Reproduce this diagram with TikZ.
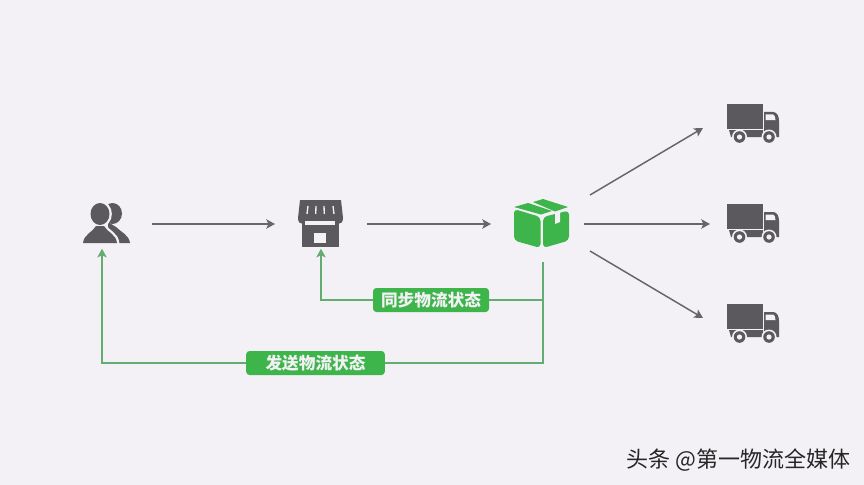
\documentclass[tikz,border=0pt]{standalone}
\usepackage{fontspec}
\usepackage{xcolor}
\setmainfont{Noto Sans CJK SC}
\usetikzlibrary{arrows.meta,positioning}
\definecolor{paper}{HTML}{F3F1F6}
\definecolor{iconGray}{HTML}{5B595E}
\definecolor{lineGray}{HTML}{67656A}
\definecolor{boxGreen}{HTML}{3DB54A}
\definecolor{lineGreen}{HTML}{62AD6F}
\tikzstyle{slot}=[inner sep=0pt, outer sep=0pt, minimum width=75pt, minimum height=37pt]
\tikzstyle{flow}=[-{Stealth[length=6.5pt,width=7pt,inset=1.5pt]}, line width=1.1pt, lineGray]
\tikzstyle{notify}=[-{Stealth[length=6.5pt,width=7pt,inset=1.5pt]}, line width=1.1pt, lineGreen]
\tikzstyle{trunk}=[line width=1.1pt, lineGreen]
\tikzstyle{status}=[fill=boxGreen, rounded corners=2.5pt, text=paper, font=\bfseries\fontsize{12.5pt}{14pt}\selectfont, inner sep=0pt, minimum height=18pt]
\tikzstyle{credit}=[font=\fontsize{16.5pt}{18pt}\selectfont, text=black!85]
\tikzset{
  truckicon/.pic={
    \fill[iconGray] (-26,-19) rectangle (10,6);
    \fill[iconGray] (-24,7) -- (10,7) -- (10,14) -- (-22,14) -- cycle;
    \fill[iconGray] (11,-11) -- (20,-11) .. controls (24,-11) and (26,-7) .. (26,-2) -- (26,14) -- (11,14) -- cycle;
    \fill[paper] (12.5,-8.5) -- (20,-8.5) .. controls (21.5,-8.5) and (22.5,-6) .. (22.5,-3) -- (12.5,-3) -- cycle;
    \foreach \wx in {-13.5,16} {
      \fill[paper] (\wx,14) circle (7.5);
      \fill[iconGray] (\wx,14) circle (5.8);
      \fill[paper] (\wx,14) circle (2.6);
    }
  }
}
\begin{document}
\begin{tikzpicture}[x=0.75pt,y=-0.75pt]
  \useasboundingbox (0,0) rectangle (864,485);
  \fill[paper] (0,0) rectangle (864,485);

  % Nodes
  \node[slot, minimum width=75pt] (user) at (102,224) {};
  \node[slot, minimum width=69pt] (store) at (321,224) {};
  \node[slot, minimum width=78pt, minimum height=57pt] (parcel) at (543,224) {};
  \node[slot, minimum width=75pt, minimum height=7.5pt] (truck1) at (753,123) {};
  \node[slot, minimum width=64.5pt] (truck2) at (753,224) {};
  \node[slot, minimum width=75pt, minimum height=7.5pt] (truck3) at (753,323) {};
  \coordinate (parcel up) at (590,195);
  \coordinate (parcel mid) at (584,224);
  \coordinate (parcel down) at (590,251);

  % Labels
  \node[status, minimum width=87pt] (sync) at (431,300) {同步物流状态};
  \node[status, minimum width=104pt] (send) at (315.5,363) {发送物流状态};

  % Grey arrows
  \draw[flow] (user) -- (store);
  \draw[flow] (store) -- (parcel);
  \draw[flow] (parcel up) -- (truck1.south west);
  \draw[flow] (parcel mid) -- (truck2.west);
  \draw[flow] (parcel down) -- (truck3.north west);

  % Green arrows
  \draw[trunk] (parcel.south) |- (send.east);
  \draw[trunk] (sync.east) -- (parcel.south |- sync.east);
  \draw[notify] (send.west) -| (user.south);
  \draw[notify] (sync.west) -| (store.south);

  % User icon
  \fill[iconGray] (112.5,213.5) ellipse (9.5 and 10.5);
  \fill[iconGray] (108,243) -- (130,243) .. controls (129,235) and (121,232) .. (116,227) -- (108,222) -- cycle;
  \path[fill=iconGray, preaction={draw=paper, line width=3.5pt}] (100,214) ellipse (9.5 and 11)
    (83,243) .. controls (84,234) and (93,232) .. (96,226) -- (104,226) .. controls (107,232) and (116,234) .. (117,243) -- cycle;

  % Store icon
  \fill[iconGray] (302,220) rectangle (339,247);
  \fill[iconGray] (300,200) -- (341,200) -- (343,218) .. controls (343,222) and (341,224) .. (338,224) -- (303,224) .. controls (300,224) and (298,222) .. (298,218) -- cycle;
  \fill[paper] (305,221) rectangle (335,225);
  \fill[paper] (314,233) rectangle (326,243);
  \foreach \sx/\st in {308/307,316/315.7,324/324.3,333/334} {
    \draw[paper, line width=1pt] (\sx,206) -- (\st,214);
  }

  % Parcel icon
  \fill[boxGreen, rounded corners=3pt] (514,209) -- (540.5,217) -- (540.5,248) -- (514,240.5) -- cycle;
  \fill[boxGreen, rounded corners=3pt] (543,217) -- (569,210.5) -- (569,240.5) -- (543,248) -- cycle;
  \fill[boxGreen] (514,207) -- (528,203) -- (552,211) -- (541,214.5) -- cycle;
  \fill[boxGreen] (533,202) -- (543,199) -- (568,207) -- (555,211.5) -- cycle;
  \fill[paper] (555,212.5) -- (560,211.5) -- (560,222) -- (555,224) -- cycle;

  % Trucks
  \path (753,123) pic {truckicon};
  \path (753,223) pic {truckicon};
  \path (753,323) pic {truckicon};

  % Watermark
  \node[credit] (source) at (738.5,460) {头条 @第一物流全媒体};
\end{tikzpicture}
\end{document}
